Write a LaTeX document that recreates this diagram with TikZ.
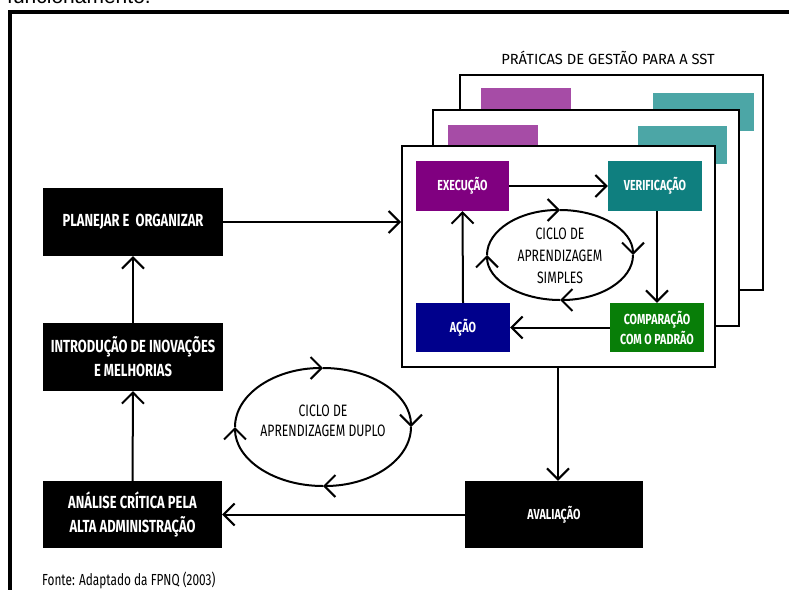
\documentclass[tikz,border=0pt]{standalone}
\usepackage{fontspec}
\setmainfont{Fira Sans}[FakeStretch=0.74]
\newfontfamily\widefont{Fira Sans}
\newfontfamily\arialfont{Liberation Sans}
\usetikzlibrary{arrows.meta}
\definecolor{cpurple}{HTML}{800080}
\definecolor{cteal}{HTML}{0F7F7F}
\definecolor{cnavy}{HTML}{00008C}
\definecolor{cgreen}{HTML}{087E08}
\definecolor{lpurple}{HTML}{A64CA6}
\definecolor{lteal}{HTML}{4CA6A6}
\tikzset{
  box/.style={rectangle, fill=black, text=white, align=center, inner sep=0pt,
    font=\fontsize{17.5}{24}\selectfont\bfseries},
  sbox/.style={rectangle, text=white, align=center, inner sep=0pt,
    font=\fontsize{14.5}{20}\selectfont\bfseries},
  sheet/.style={rectangle, draw=black, line width=2pt, fill=white, inner sep=0pt},
  arr/.style={line width=2pt, -{Straight Barb[length=11pt,width=22pt]}},
  cyc/.style={line width=2pt, -{Straight Barb[length=11pt,width=22pt]}},
  lbl/.style={align=center, font=\fontsize{16.5}{22}\selectfont}
}
\begin{document}
\begin{tikzpicture}[x=1pt,y=-1pt]
\useasboundingbox (0,0) rectangle (789,589);
% cut-off caption line above the frame
\node[anchor=base west, inner sep=0pt, font=\arialfont\fontsize{21}{21}\selectfont] (top) at (7,4) {funcionamento.};
% outer frame
\draw[line width=4pt] (10,620) -- (10,12) -- (820,12);
% title
\node[font=\widefont\fontsize{14.7}{15}\selectfont] (title) at (608,58) {PRÁTICAS DE GESTÃO PARA A SST};
% back sheets
\node[sheet, minimum width=303pt, minimum height=215pt] (p3) at (611.5,182.5) {};
\fill[lpurple] (481,88) rectangle (571,112);
\fill[lteal] (653,93) rectangle (754,131);
\node[sheet, minimum width=306pt, minimum height=216pt] (p2) at (586,218) {};
\fill[lpurple] (448,125) rectangle (538,148);
\fill[lteal] (638,126) rectangle (727,164);
\node[sheet, minimum width=313pt, minimum height=221pt] (p1) at (558.5,256.5) {};
% inner boxes
\node[sbox, fill=cpurple, minimum width=93pt, minimum height=50pt] (exe) at (462.5,186) {EXECUÇÃO};
\node[sbox, fill=cteal, minimum width=94pt, minimum height=50pt] (ver) at (655,186) {VERIFICAÇÃO};
\node[sbox, fill=cnavy, minimum width=94pt, minimum height=49pt] (aca) at (463,327.5) {AÇÃO};
\node[sbox, fill=cgreen, minimum width=94pt, minimum height=49pt] (com) at (657,327.5) {COMPARAÇÃO\\COM O PADRÃO};
\draw[arr] (exe.east) -- (ver.west);
\draw[arr] (ver.south -| 657,0) -- (com.north -| 657,0);
\draw[arr] (com.west) -- (aca.east);
\draw[arr] (aca.north) -- (exe.south);
% simple learning cycle
\node[lbl] (c1) at (560,256) {CICLO DE\\APRENDIZAGEM\\SIMPLES};
\begin{scope}[shift={(560,255)}]
\coordinate (c1l) at (-73,0); \coordinate (c1t) at (0,-45);
\coordinate (c1r) at (73,0); \coordinate (c1b) at (0,45);
\draw[cyc] (c1l) .. controls (-73,-24.9) and (-40.3,-45) .. (c1t);
\draw[cyc] (c1t) .. controls (40.3,-45) and (73,-24.9) .. (c1r);
\draw[cyc] (c1r) .. controls (73,24.9) and (40.3,45) .. (c1b);
\draw[cyc] (c1b) .. controls (-40.3,45) and (-73,24.9) .. (c1l);
\end{scope}
% left column
\node[box, minimum width=180pt, minimum height=68pt] (pla) at (133,222) {PLANEJAR E \ ORGANIZAR};
\node[box, minimum width=180pt, minimum height=68pt] (int) at (133,357) {INTRODUÇÃO DE INOVAÇÕES\\E MELHORIAS};
\node[box, minimum width=179pt, minimum height=67pt] (ana) at (132.5,514.5) {ANÁLISE CRÍTICA PELA\\ALTA ADMINISTRAÇÃO};
\node[box, minimum width=178pt, minimum height=67pt, font=\fontsize{14.5}{16}\selectfont\bfseries] (ava) at (554,514.5) {AVALIAÇÃO};
\draw[arr] (pla.east) -- (p1.west |- pla.east);
\draw[arr] (int.north) -- (pla.south);
\draw[arr] (ana.north) -- (int.south);
\draw[arr] (ava.west) -- (ana.east);
\draw[arr] (p1.south -| 558,0) -- (ava.north -| 558,0);
% double learning cycle
\node[lbl, font=\fontsize{16.5}{20}\selectfont] (c2) at (323,421) {CICLO DE\\APRENDIZAGEM DUPLO};
\begin{scope}[shift={(323,427)}]
\coordinate (c2l) at (-88,0); \coordinate (c2t) at (0,-59);
\coordinate (c2r) at (88,0); \coordinate (c2b) at (0,59);
\draw[cyc] (c2l) .. controls (-88,-32.6) and (-48.6,-59) .. (c2t);
\draw[cyc] (c2t) .. controls (48.6,-59) and (88,-32.6) .. (c2r);
\draw[cyc] (c2r) .. controls (88,32.6) and (48.6,59) .. (c2b);
\draw[cyc] (c2b) .. controls (-48.6,59) and (-88,32.6) .. (c2l);
\end{scope}
% source
\node[anchor=west, inner sep=0pt, font=\fontsize{16}{16}\selectfont] (src) at (42,580) {Fonte: Adaptado da FPNQ (2003)};
\end{tikzpicture}
\end{document}
